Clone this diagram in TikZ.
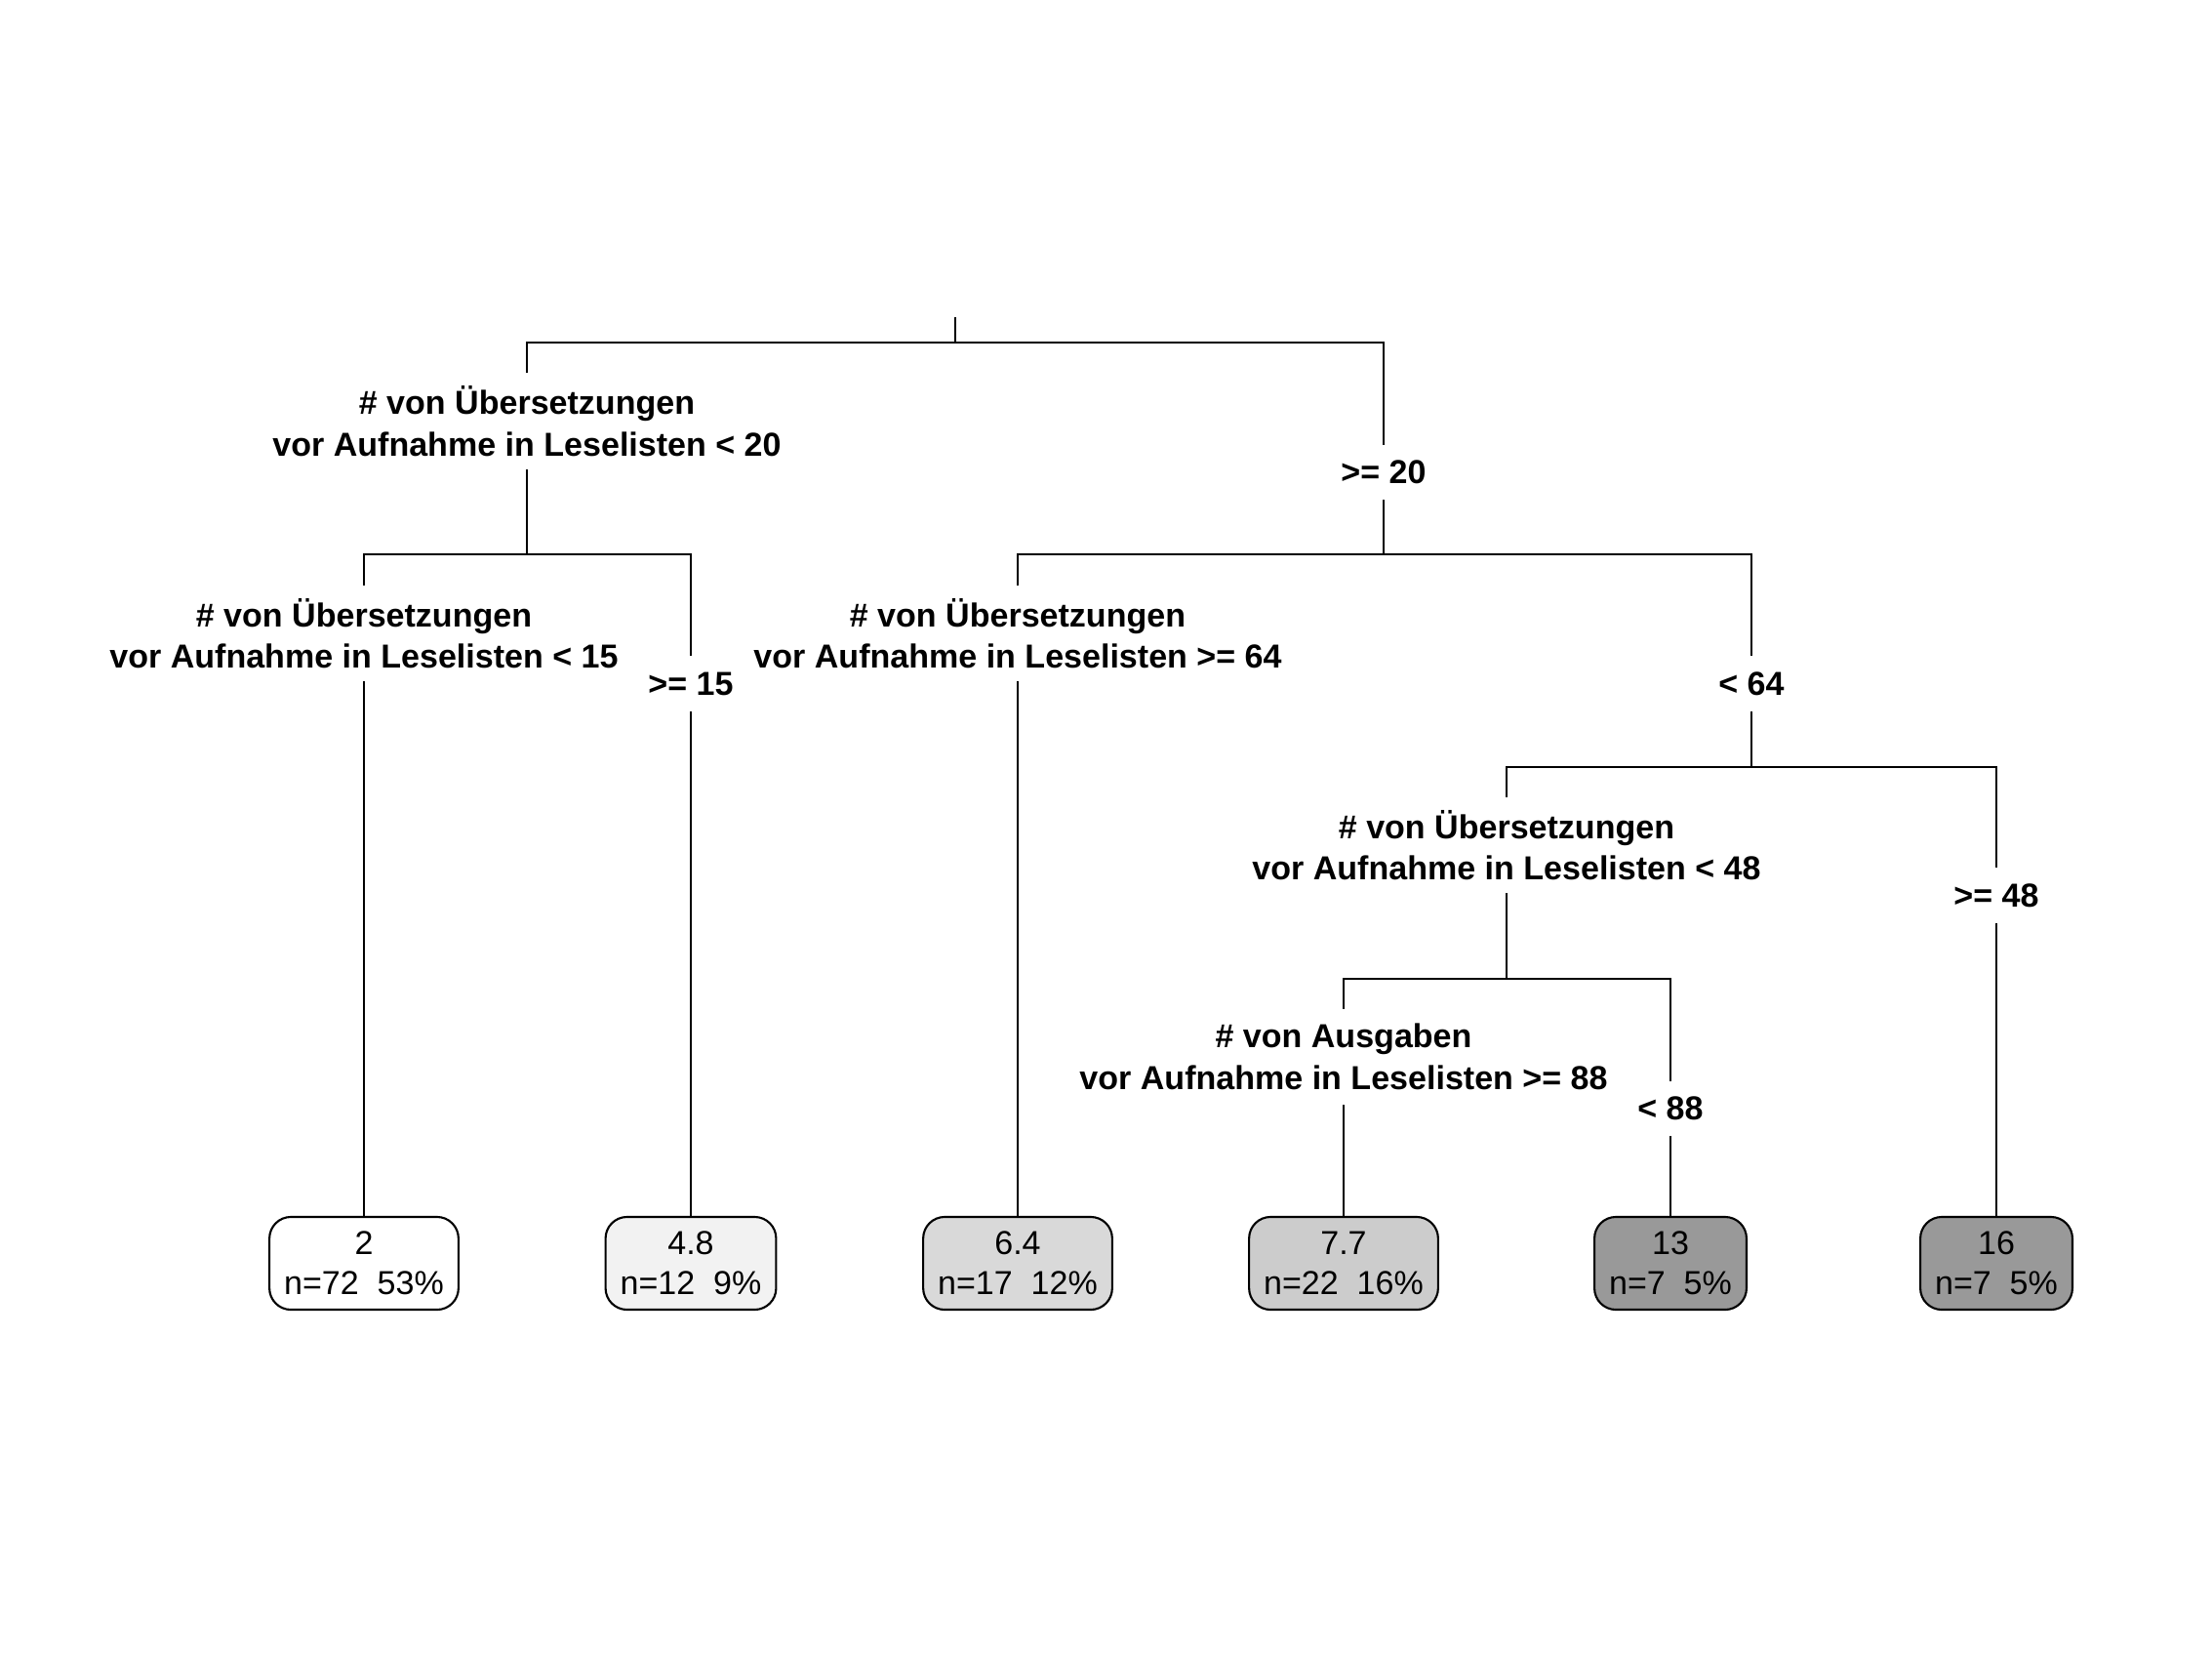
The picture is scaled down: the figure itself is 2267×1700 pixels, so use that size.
\documentclass[tikz,border=0pt]{standalone}
\usepackage{fontspec}
\setmainfont{Liberation Sans}
\usepackage{tikz}
\usetikzlibrary{positioning}

\definecolor{fillA}{HTML}{FFFFFF}
\definecolor{fillB}{HTML}{F2F2F2}
\definecolor{fillC}{HTML}{D9D9D9}
\definecolor{fillD}{HTML}{CCCCCC}
\definecolor{fillE}{HTML}{999999}

\begin{document}
\begin{tikzpicture}[x=0.01cm,y=-0.01cm,line width=0.5pt,
  split node/.style={align=center,inner sep=0pt,minimum height=0.97cm,font=\fontsize{9.68pt}{12.1pt}\selectfont\bfseries},
  cond node/.style={inner sep=0pt,minimum height=0.55cm,font=\fontsize{9.68pt}{12.1pt}\selectfont\bfseries},
  leaf node/.style={draw,line width=0.6pt,rounded corners=0.22cm,align=center,inner xsep=0.15cm,inner ysep=0pt,minimum height=0.95cm,font=\fontsize{9.68pt}{11.7pt}\selectfont}]

  \useasboundingbox (0,0) rectangle (2267,1700);

  % junctions
  \coordinate (root) at (979,325);
  \coordinate (j1) at (979,351);
  \coordinate (j2) at (540,568);
  \coordinate (j3) at (1418,568);
  \coordinate (j4) at (1795,786);
  \coordinate (j5) at (1544,1003);

  % split labels
  \node[split node] (s2) at (540,431.5) {\# von Übersetzungen\\vor Aufnahme in Leselisten < 20};
  \node[cond node] (c20) at (1418,484) {>= 20};
  \node[split node] (s4) at (373,649) {\# von Übersetzungen\\vor Aufnahme in Leselisten < 15};
  \node[cond node] (c15) at (708,700.5) {>= 15};
  \node[split node] (s6) at (1043,649) {\# von Übersetzungen\\vor Aufnahme in Leselisten >= 64};
  \node[cond node] (c64) at (1795,700.5) {< 64};
  \node[split node] (s8) at (1544,866) {\# von Übersetzungen\\vor Aufnahme in Leselisten < 48};
  \node[cond node] (c48) at (2046,917.5) {>= 48};
  \node[split node] (s10) at (1377,1083) {\# von Ausgaben\\vor Aufnahme in Leselisten >= 88};
  \node[cond node] (c88) at (1712,1136) {< 88};

  % leaves
  \node[leaf node,fill=fillA] (l1) at (373,1294.5) {2\\n=72~~53\%};
  \node[leaf node,fill=fillB] (l2) at (708,1294.5) {4.8\\n=12~~9\%};
  \node[leaf node,fill=fillC] (l3) at (1043,1294.5) {6.4\\n=17~~12\%};
  \node[leaf node,fill=fillD] (l4) at (1377,1294.5) {7.7\\n=22~~16\%};
  \node[leaf node,fill=fillE] (l5) at (1712,1294.5) {13\\n=7~~5\%};
  \node[leaf node,fill=fillE] (l6) at (2046,1294.5) {16\\n=7~~5\%};

  \draw (root) -- (j1);
  \draw (s2) |- (j1) -| (c20);
  \draw (s2) -- (j2);
  \draw (s4) |- (j2) -| (c15);
  \draw (c20) -- (j3);
  \draw (s6) |- (j3) -| (c64);
  \draw (c64) -- (j4);
  \draw (s8) |- (j4) -| (c48);
  \draw (s8) -- (j5);
  \draw (s10) |- (j5) -| (c88);

  \draw (s4) -- (l1);
  \draw (c15) -- (l2);
  \draw (s6) -- (l3);
  \draw (s10) -- (l4);
  \draw (c88) -- (l5);
  \draw (c48) -- (l6);
\end{tikzpicture}
\end{document}
